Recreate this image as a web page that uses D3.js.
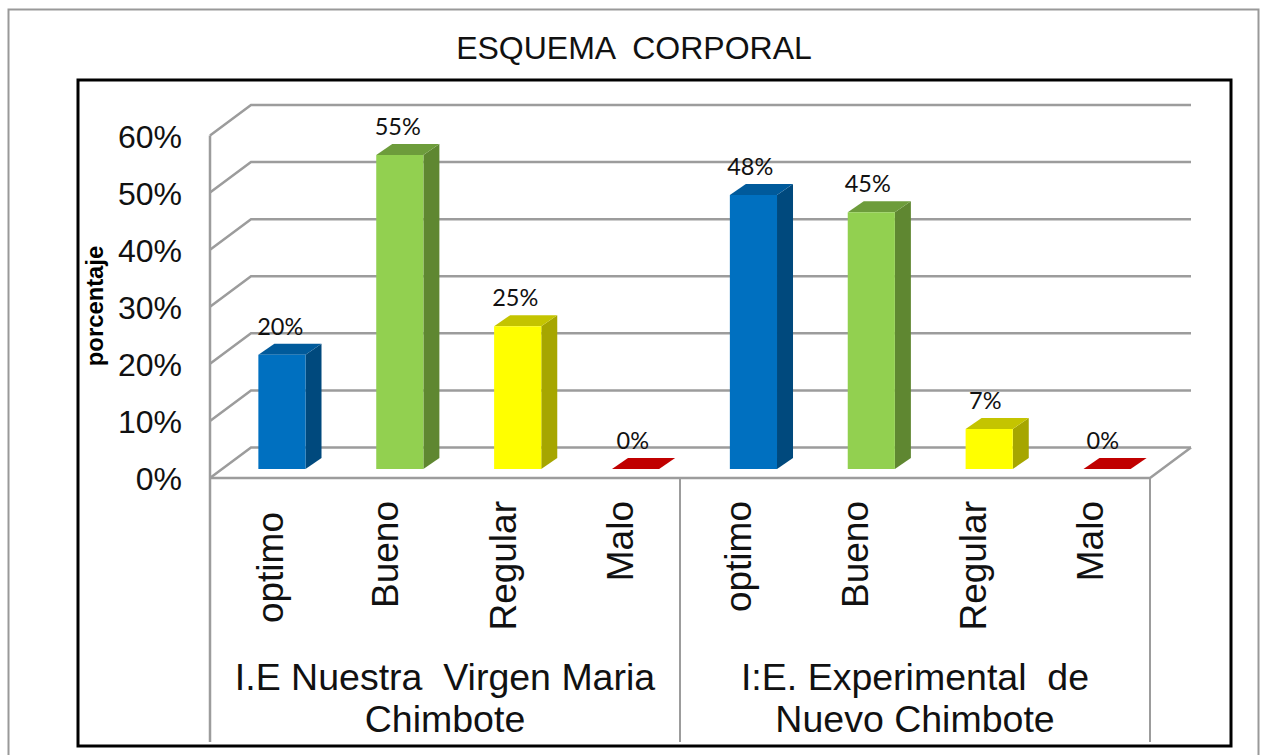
<!DOCTYPE html>
<html><head><meta charset="utf-8">
<script src="https://cdnjs.cloudflare.com/ajax/libs/d3/7.8.5/d3.min.js"></script>
<style>html,body{margin:0;padding:0;background:#fff;overflow:hidden}svg{display:block}</style>
</head><body><svg id="c" width="1267" height="755"></svg>
<script>
const chartTitle = "ESQUEMA  CORPORAL";
const yAxisTitle = "porcentaje";
const groups = [["I.E Nuestra  Virgen Maria","Chimbote"],["I:E. Experimental  de","Nuevo Chimbote"]];
const categories = ["optimo","Bueno","Regular","Malo"];
const seriesValues = [20,55,25,0,48,45,7,0];
const yTicks = [0,10,20,30,40,50,60];
const faceColors = {optimo:"#0070C0",Bueno:"#92D050",Regular:"#FFFF00",Malo:"#C00000"};
const sideColors = {optimo:"#00497D",Bueno:"#5F8731",Regular:"#A6A600",Malo:"#7D0000"};
const topColors  = {optimo:"#005A9B",Bueno:"#6D9C3B",Regular:"#C4C400",Malo:"#C00000"};

const svg = d3.select("#c");
const sans = "'Liberation Sans',Arial,sans-serif", cal = "Lato,'Open Sans',sans-serif";
const grey = "#9c9c9c";
const items = seriesValues.map((v,i)=>({v,i,cat:categories[i%4]}));
const x = d3.scaleBand().domain(d3.range(8)).range([210,1153]).paddingInner(0.6).paddingOuter(0.3);
const xLabel = d3.scaleBand().domain(d3.range(8)).range([210,1150]);
const y = d3.scaleLinear().domain([0,60]).range([478,135.5]);
const wall = {dx:41,dy:-30.5}, bar = {dx:16,dy:-11}, off = {dx:13,dy:-9};

svg.append("rect").attr("x",8.5).attr("y",9.5).attr("width",1250).attr("height",760).attr("fill","#fff").attr("stroke","#999").attr("stroke-width",2);
svg.append("rect").attr("x",78).attr("y",80).attr("width",1153).attr("height",666).attr("fill","#fff").attr("stroke","#000").attr("stroke-width",3);

svg.append("text").attr("x",634).attr("y",59).attr("text-anchor","middle").attr("font-family",sans).attr("font-size",32).style("white-space","pre").attr("fill","#111").text(chartTitle);

// gridlines on the walls
const x0 = 210, x1 = 1150;
const g = svg.append("g").attr("fill","none").attr("stroke",grey).attr("stroke-width",2.5);
g.selectAll("path.grid").data(yTicks).join("path").attr("class","grid")
  .attr("d",t=>d3.line()([[x0,y(t)],[x0+wall.dx,y(t)+wall.dy],[x1+wall.dx,y(t)+wall.dy]]));
g.append("path").attr("d",d3.line()([[x0,y(60)],[x0,742]]));
g.append("path").attr("d",d3.line()([[x0,y(0)],[x1,y(0)],[x1+wall.dx,y(0)+wall.dy]]));
[1,2].forEach(k=>g.append("path").attr("stroke-width",2).attr("d",d3.line()([[x0+(x1-x0)*k/2,y(0)],[x0+(x1-x0)*k/2,742]])));

// y axis labels
const yAxis = d3.axisLeft(y).tickValues(yTicks).tickSize(0).tickPadding(28).tickFormat(d=>d+"%");
const ya = svg.append("g").attr("transform",`translate(${x0},0)`).call(yAxis);
ya.select(".domain").remove();
ya.selectAll("text").attr("font-family",sans).attr("font-size",32).attr("fill","#111").attr("dy","0.36em");
svg.append("text").attr("transform","translate(103,306) rotate(-90)").attr("text-anchor","middle").attr("font-family",sans).attr("font-weight","bold").attr("font-size",23.8).attr("fill","#000").text(yAxisTitle);

// 3D bars
const bars = svg.append("g").selectAll("g").data(items).join("g");
const bl = d=>x(d.i)+off.dx, br = d=>bl(d)+x.bandwidth(), by = ()=>y(0)+off.dy, ty = d=>y(d.v)+off.dy;
const lc = d=>xLabel(d.i)+xLabel.bandwidth()/2;
const poly = f=>d=>d3.line()(f(d))+"Z";
bars.append("path").attr("fill",d=>sideColors[d.cat]).attr("d",poly(d=>[[br(d),ty(d)],[br(d)+bar.dx,ty(d)+bar.dy],[br(d)+bar.dx,by()+bar.dy],[br(d),by()]]));
bars.append("path").attr("fill",d=>topColors[d.cat]).attr("d",poly(d=>[[bl(d),ty(d)],[bl(d)+bar.dx,ty(d)+bar.dy],[br(d)+bar.dx,ty(d)+bar.dy],[br(d),ty(d)]]));
bars.append("path").attr("fill",d=>faceColors[d.cat]).attr("d",poly(d=>[[bl(d),ty(d)],[br(d),ty(d)],[br(d),by()],[bl(d),by()]]));
bars.append("text").attr("x",d=>lc(d)+11.5).attr("y",d=>ty(d)+bar.dy-9).attr("text-anchor","middle").attr("font-family",cal).attr("font-size",23.5).attr("fill","#111").text(d=>d.v+"%");

// category labels
svg.append("g").selectAll("text").data(items).join("text")
  .attr("transform",d=>`translate(${lc(d)+(d.i===0?14:12)},${d.i===0?512:501}) rotate(-90)`)
  .attr("text-anchor","end").attr("font-family",sans).attr("font-size",37).attr("fill","#111").text(d=>d.cat);

// group labels
groups.forEach((lines,k)=>{
  const cx = x0+(x1-x0)*(k+0.5)/2;
  lines.forEach((t,j)=>svg.append("text").attr("x",cx).attr("y",690+j*42).attr("text-anchor","middle").attr("font-family",sans).attr("font-size",37.5).style("white-space","pre").attr("fill","#111").text(t));
});
</script></body></html>
